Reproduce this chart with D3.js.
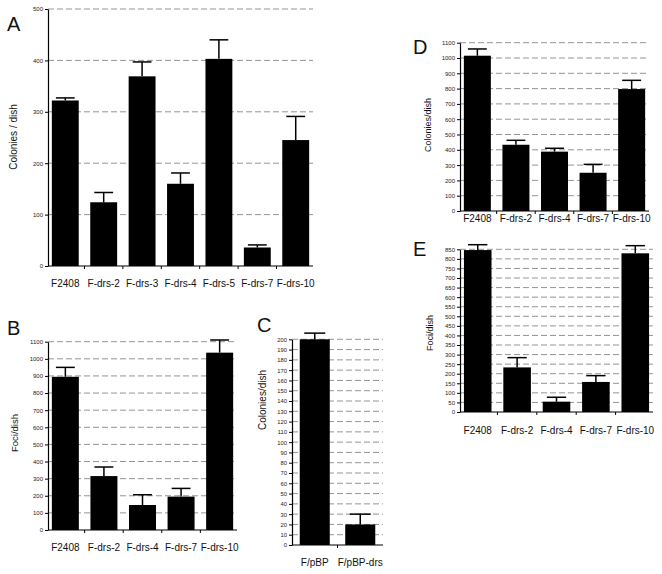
<!DOCTYPE html>
<html><head><meta charset="utf-8">
<script src="https://cdn.jsdelivr.net/npm/d3@7"></script>
<style>body{margin:0;background:#fff}svg{display:block}</style>
</head><body>
<script>
// ---- Data ----
const catsA = ["F2408","F-drs-2","F-drs-3","F-drs-4","F-drs-5","F-drs-7","F-drs-10"];
const valsA = [322,124,369,160,403,36,245];
const errA  = [327,143,397,181,440,41,291];
const ticksA = [0,100,200,300,400,500];

const catsB = ["F2408","F-drs-2","F-drs-4","F-drs-7","F-drs-10"];
const valsB = [895,315,146,195,1036];
const errB  = [950,368,206,243,1110];
const ticksB = [0,100,200,300,400,500,600,700,800,900,1000,1100];

const catsC = ["F/pBP","F/pBP-drs"];
const valsC = [200,20];
const errC  = [206,30];
const ticksC = [0,10,20,30,40,50,60,70,80,90,100,110,120,130,140,150,160,170,180,190,200];

const catsD = ["F2408","F-drs-2","F-drs-4","F-drs-7","F-drs-10"];
const valsD = [1015,433,388,250,797];
const errD  = [1059,462,410,305,854];
const ticksD = [0,100,200,300,400,500,600,700,800,900,1000,1100];

const catsE = ["F2408","F-drs-2","F-drs-4","F-drs-7","F-drs-10"];
const valsE = [846,233,54,157,829];
const errE  = [874,284,77,190,869];
const ticksE = [0,50,100,150,200,250,300,350,400,450,500,550,600,650,700,750,800,850];

const svg = d3.select("body").append("svg").attr("width",662).attr("height",574);
const FONT = "Liberation Sans, Arial, Helvetica, sans-serif";

function panel(o){
  const g = svg.append("g");
  const x = d3.scaleBand().domain(o.cats).range([o.x0,o.x1]).paddingInner(o.pi).paddingOuter(o.po);
  const y = d3.scaleLinear().domain([0,o.max]).range([o.y0,o.y1]);
  // gridlines
  g.selectAll(".grid").data(o.ticks.filter(t=>t>0)).join("line")
    .attr("x1",o.x0).attr("x2",o.x1).attr("y1",d=>y(d)).attr("y2",d=>y(d))
    .attr("stroke","#888").attr("stroke-width",0.9).attr("stroke-dasharray","6,3");
  // bars
  g.selectAll(".bar").data(o.cats).join("rect")
    .attr("x",d=>x(d)).attr("width",x.bandwidth())
    .attr("y",(d,i)=>y(o.vals[i])).attr("height",(d,i)=>y(0)-y(o.vals[i]))
    .attr("fill","#000");
  // error bars
  const cap = x.bandwidth()*0.7;
  o.cats.forEach((c,i)=>{
    const cx = x(c)+x.bandwidth()/2;
    g.append("line").attr("x1",cx).attr("x2",cx).attr("y1",y(o.vals[i])).attr("y2",y(o.errs[i]))
      .attr("stroke","#000").attr("stroke-width",1.5);
    g.append("line").attr("x1",cx-cap/2).attr("x2",cx+cap/2).attr("y1",y(o.errs[i])).attr("y2",y(o.errs[i]))
      .attr("stroke","#000").attr("stroke-width",1.5);
  });
  // y axis
  const ya = g.append("g").attr("transform",`translate(${o.x0},0)`)
    .call(d3.axisLeft(y).tickValues(o.ticks).tickFormat(d3.format("d")).tickSize(3).tickPadding(2).tickSizeOuter(0));
  ya.select(".domain").attr("stroke-width",1.2);
  ya.selectAll("text").attr("font-family",FONT).attr("font-size",o.tfs||6).attr("fill","#222");
  // x axis line + boundary ticks
  g.append("line").attr("x1",o.x0).attr("x2",o.x1).attr("y1",y(0)).attr("y2",y(0))
    .attr("stroke","#000").attr("stroke-width",1.2);
  const step = x.step();
  o.cats.slice(1).forEach(c=>{
    const bx = x(c) - (step - x.bandwidth())/2;
    g.append("line").attr("x1",bx).attr("x2",bx).attr("y1",y(0)).attr("y2",y(0)+3)
      .attr("stroke","#000").attr("stroke-width",1);
  });
  // category labels
  g.selectAll(".cl").data(o.cats).join("text")
    .attr("x",d=>x(d)+x.bandwidth()/2).attr("y",o.ly)
    .attr("text-anchor","middle").attr("font-family",FONT).attr("font-size",o.lfs||10)
    .attr("fill","#111").text(d=>d);
  // y title
  g.append("text").attr("transform",`translate(${o.tx},${o.ty}) rotate(-90)`)
    .attr("text-anchor","middle").attr("font-family",FONT).attr("font-size",o.yfs||9.5)
    .attr("fill","#111").text(o.title);
  // panel letter
  g.append("text").attr("x",o.px).attr("y",o.py).attr("font-family",FONT)
    .attr("font-size",20).attr("fill","#111").text(o.letter);
}

panel({cats:catsA,vals:valsA,errs:errA,ticks:ticksA,max:500,x0:48,x1:313,y0:266,y1:9,pi:0.3,po:0.1,
  ly:287,tx:17,ty:137,title:"Colonies / dish",px:7,py:31,letter:"A",yfs:10});
panel({cats:catsB,vals:valsB,errs:errB,ticks:ticksB,max:1100,x0:48,x1:237,y0:530,y1:341.7,pi:0.3,po:0.1,
  ly:551,tx:18,ty:433,title:"Foci/dish",px:7,py:335,letter:"B"});
panel({cats:catsC,vals:valsC,errs:errC,ticks:ticksC,max:200,x0:292,x1:383,y0:545,y1:339.3,pi:0.34,po:0.17,
  ly:566,tx:266,ty:400,title:"Colonies/dish",px:257,py:332,letter:"C",tfs:5.8,yfs:10});
panel({cats:catsD,vals:valsD,errs:errD,ticks:ticksD,max:1100,x0:460,x1:649,y0:211,y1:42.7,pi:0.3,po:0.1,
  ly:222,tx:431,ty:125,title:"Colonies/dish",px:413,py:54,letter:"D",yfs:9});
panel({cats:catsE,vals:valsE,errs:errE,ticks:ticksE,max:850,x0:460,x1:653,y0:412,y1:249.3,pi:0.3,po:0.1,
  ly:434,tx:433,ty:333,title:"Foci/dish",px:413,py:256,letter:"E",yfs:9});
</script>
</body></html>
